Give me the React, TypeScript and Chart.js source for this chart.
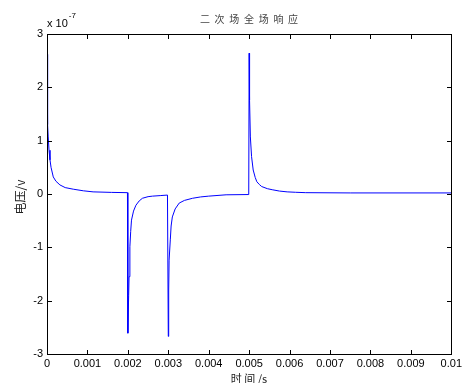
import React, { useEffect, useRef } from "react";
import { Chart, registerables } from "chart.js";

Chart.register(...registerables);

// time in milliseconds
const timeMs = [
  0, 0.01, 0.02, 0.03, 0.05, 0.074, 0.1, 0.155, 0.22, 0.32, 0.45, 0.65, 0.9, 1.14, 1.6, 1.99,
  2.0, 2.02, 2.03, 2.05, 2.07, 2.09, 2.14, 2.2, 2.28, 2.36, 2.5, 2.61, 2.8, 2.98,
  3.0, 3.01, 3.02, 3.05, 3.07, 3.1, 3.17, 3.27, 3.4, 3.6, 3.8, 4.0, 4.43, 4.99,
  5.0, 5.01, 5.03, 5.06, 5.1, 5.15, 5.19, 5.25, 5.31, 5.45, 5.57, 5.75, 5.94, 6.15, 6.4, 7.5, 10,
];
// voltage in units of 1e-7 V
const voltage = [
  2.62, 1.76, 1.3, 1.07, 0.82, 0.64, 0.5, 0.32, 0.24, 0.17, 0.12, 0.09, 0.06, 0.04, 0.03, 0.025,
  -2.61, -1.9, -1.55, -0.99, -0.7, -0.49, -0.32, -0.21, -0.13, -0.08, -0.05, -0.04, -0.03, -0.02,
  -2.67, -1.8, -1.24, -0.86, -0.6, -0.43, -0.28, -0.17, -0.12, -0.08, -0.055, -0.04, -0.015, -0.01,
  2.64, 1.76, 1.07, 0.7, 0.45, 0.31, 0.23, 0.18, 0.14, 0.1, 0.08, 0.055, 0.04, 0.032, 0.025, 0.02, 0.02,
];

const xTickValues = [0, 0.001, 0.002, 0.003, 0.004, 0.005, 0.006, 0.007, 0.008, 0.009, 0.01];
const xTickLabels = ["0", "0.001", "0.002", "0.003", "0.004", "0.005", "0.006", "0.007", "0.008", "0.009", "0.01"];
const yTickValues = [-3, -2, -1, 0, 1, 2, 3];
const yTickLabels = ["-3", "-2", "-1", "0", "1", "2", "3"];

const titleText = "二次场全场响应";
const xTitle = "时 间 /s";
const yTitle = "电压/v";
const exponentBase = "x 10";
const exponentPower = "-7";

const LATIN = '"Liberation Sans", Arial, sans-serif';
const CJK = '"Noto Sans CJK SC", "Liberation Sans", sans-serif';

const decorPlugin = {
  id: "decor",
  afterDraw(chart: any) {
    const { ctx, chartArea } = chart;
    const L = Math.round(chartArea.left);
    const R = Math.round(chartArea.right);
    const T = Math.round(chartArea.top);
    const B = Math.round(chartArea.bottom);
    const xs = chart.scales.x;
    const ys = chart.scales.y;
    ctx.save();
    ctx.globalAlpha = 1;
    ctx.globalCompositeOperation = "source-over";
    ctx.fillStyle = "#000";
    // box
    ctx.fillRect(L, T, R - L + 1, 1);
    ctx.fillRect(L, B, R - L + 1, 1);
    ctx.fillRect(L, T, 1, B - T + 1);
    ctx.fillRect(R, T, 1, B - T + 1);
    // inward ticks
    const tl = 4;
    xTickValues.forEach((v) => {
      const px = Math.round(xs.getPixelForValue(v));
      ctx.fillRect(px, B - tl, 1, tl);
      ctx.fillRect(px, T + 1, 1, tl);
    });
    yTickValues.forEach((v) => {
      const py = Math.round(ys.getPixelForValue(v));
      ctx.fillRect(L + 1, py, tl, 1);
      ctx.fillRect(R - tl, py, tl, 1);
    });

    // title, spaced characters
    ctx.fillStyle = "#444";
    ctx.font = `10px ${CJK}`;
    ctx.textAlign = "center";
    ctx.textBaseline = "middle";
    const cx = (L + R) / 2;
    const step = 14.7;
    for (let i = 0; i < titleText.length; i++) {
      ctx.fillText(titleText[i], cx + (i - (titleText.length - 1) / 2) * step, 19);
    }

    // x title
    ctx.fillStyle = "#222";
    ctx.font = `11px ${CJK}`;
    ctx.textAlign = "center";
    ctx.textBaseline = "middle";
    ctx.fillText(xTitle, cx, 379);

    // y title
    ctx.save();
    ctx.translate(20, 197);
    ctx.rotate(-Math.PI / 2);
    ctx.font = `12px ${CJK}`;
    ctx.fillText(yTitle, 0, 0);
    ctx.restore();

    // exponent
    ctx.fillStyle = "#000";
    ctx.textAlign = "left";
    ctx.textBaseline = "alphabetic";
    ctx.font = `11px ${LATIN}`;
    ctx.fillText(exponentBase, L, 27);
    const w = ctx.measureText(exponentBase).width;
    ctx.font = `8px ${LATIN}`;
    ctx.fillText(exponentPower, L + w + 1, 18);
    ctx.restore();
  },
};

export default function App() {
  const ref = useRef<HTMLCanvasElement | null>(null);
  useEffect(() => {
    if (!ref.current) return;
    const points = timeMs.map((t, i) => ({ x: t / 1000, y: voltage[i] }));
    const chart = new Chart(ref.current, {
      type: "line",
      data: {
        datasets: [
          {
            data: points,
            borderColor: "rgb(0,0,255)",
            borderWidth: 1,
            pointRadius: 0,
            tension: 0,
            fill: false,
          },
        ],
      },
      options: {
        animation: false,
        responsive: false,
        layout: { padding: { top: 34, right: 12, left: 0, bottom: 0 } },
        plugins: {
          legend: { display: false },
          tooltip: { enabled: false },
          title: { display: false },
        },
        scales: {
          x: {
            type: "linear",
            min: 0,
            max: 0.01,
            grid: { display: false, drawTicks: false, tickLength: 0 },
            border: { display: false },
            afterBuildTicks: (s: any) => {
              s.ticks = xTickValues.map((v) => ({ value: v }));
            },
            afterFit: (s: any) => {
              s.height = 29;
            },
            ticks: {
              padding: 3,
              maxRotation: 0,
              autoSkip: false,
              color: "#000",
              font: { family: LATIN, size: 11 },
              callback: (_v: any, i: number) => xTickLabels[i],
            },
          },
          y: {
            type: "linear",
            min: -3,
            max: 3,
            grid: { display: false, drawTicks: false, tickLength: 0 },
            border: { display: false },
            afterBuildTicks: (s: any) => {
              s.ticks = yTickValues.map((v) => ({ value: v }));
            },
            afterFit: (s: any) => {
              s.width = 47;
            },
            ticks: {
              padding: 4,
              autoSkip: false,
              color: "#000",
              font: { family: LATIN, size: 11 },
              callback: (_v: any, i: number) => yTickLabels[i],
            },
          },
        },
      },
      plugins: [decorPlugin],
    });
    return () => chart.destroy();
  }, []);
  return (
    <div style={{ position: "absolute", left: 0, top: 0, width: 465, height: 383, background: "#fff" }}>
      <canvas ref={ref} width={465} height={383} style={{ display: "block" }} />
    </div>
  );
}
